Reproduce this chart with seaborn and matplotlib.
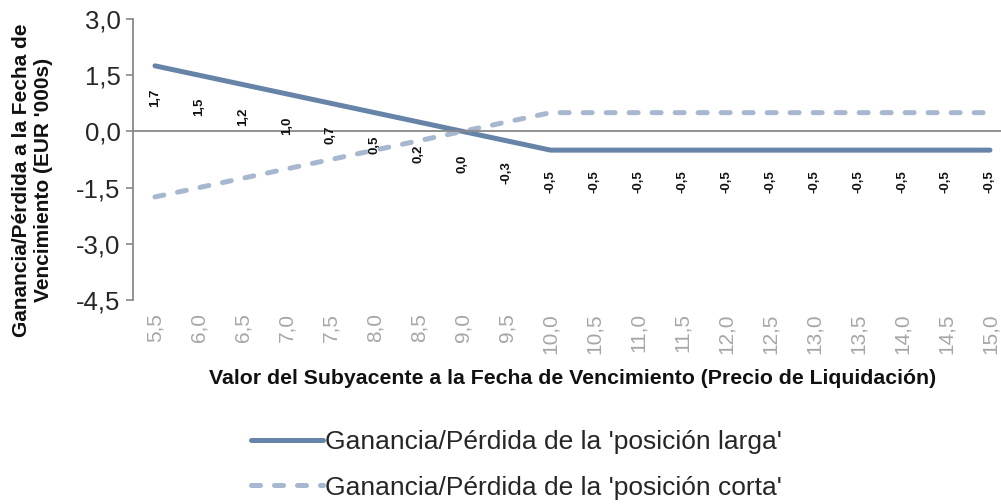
import pandas as pd
import matplotlib.pyplot as plt
import seaborn as sns

precios = ["5,5", "6,0", "6,5", "7,0", "7,5", "8,0", "8,5", "9,0", "9,5", "10,0",
           "10,5", "11,0", "11,5", "12,0", "12,5", "13,0", "13,5", "14,0", "14,5", "15,0"]
larga = [1.75, 1.5, 1.25, 1.0, 0.75, 0.5, 0.25, 0.0, -0.25, -0.5,
         -0.5, -0.5, -0.5, -0.5, -0.5, -0.5, -0.5, -0.5, -0.5, -0.5]
corta = [-1.75, -1.5, -1.25, -1.0, -0.75, -0.5, -0.25, 0.0, 0.25, 0.5,
         0.5, 0.5, 0.5, 0.5, 0.5, 0.5, 0.5, 0.5, 0.5, 0.5]
etiquetas = ["1,7", "1,5", "1,2", "1,0", "0,7", "0,5", "0,2", "0,0", "-0,3", "-0,5",
             "-0,5", "-0,5", "-0,5", "-0,5", "-0,5", "-0,5", "-0,5", "-0,5", "-0,5", "-0,5"]
yticks = [-4.5, -3.0, -1.5, 0.0, 1.5, 3.0]

serie_larga = "Ganancia/Pérdida de la 'posición larga'"
serie_corta = "Ganancia/Pérdida de la 'posición corta'"

df = pd.DataFrame({
    "Precio": precios * 2,
    "Valor": larga + corta,
    "Serie": [serie_larga] * len(precios) + [serie_corta] * len(precios),
})

sns.set_style("white")
plt.rcParams["font.family"] = ["Liberation Sans", "DejaVu Sans"]

fig = plt.figure(figsize=(10.01, 5.04), dpi=100)
ax = fig.add_axes([0.1329, 0.4048, 0.878, 0.5575])

colores = {serie_larga: "#6683a8", serie_corta: "#a6b7cf"}
sns.lineplot(data=df, x="Precio", y="Valor", hue="Serie", palette=colores,
             sort=False, ax=ax, linewidth=3.6, legend=False)

lineas = ax.get_lines()
lineas[0].set_solid_capstyle("round")
lineas[1].set_dashes((1.8, 2.8))
lineas[1].set_dash_capstyle("round")

for i, txt in enumerate(etiquetas):
    ax.annotate(txt, (i, larga[i]), xytext=(0, -23), textcoords="offset points",
                rotation=90, ha="center", va="center", fontsize=9.5,
                fontweight="bold", color="#111111")

ax.set_xlim(-0.5, len(precios) - 0.5)
ax.set_ylim(-4.5, 3.0)
ax.set_yticks(yticks)
ax.set_yticklabels([f"{v:.1f}".replace(".", ",") for v in yticks])

for s in ["top", "right"]:
    ax.spines[s].set_visible(False)
ax.spines["bottom"].set_position(("data", 0))
ax.spines["left"].set_color("#888888")
ax.spines["bottom"].set_color("#888888")
ax.spines["left"].set_linewidth(1.3)
ax.spines["bottom"].set_linewidth(1.3)

ax.set_xticks(range(len(precios)))
ax.set_xticklabels(precios, rotation=90)
ax.set_xticks([i + 0.5 for i in range(len(precios) - 1)], minor=True)
ax.tick_params(axis="x", which="major", length=0, pad=131, labelsize=15, labelcolor="#a6a6a6")
ax.tick_params(axis="x", which="minor", length=5, width=1.2, color="#888888", direction="out")
ax.tick_params(axis="y", length=5, width=1.2, color="#888888", direction="out",
               labelsize=18.5, labelcolor="#262626", pad=4, left=True)

ax.set_xlabel("Valor del Subyacente a la Fecha de Vencimiento (Precio de Liquidación)",
              fontsize=15.3, fontweight="bold", color="#111111")
ax.xaxis.set_label_coords(0.5, -0.2456)
ax.set_ylabel("")
fig.text(33 / 1001, 1 - 180 / 504, "Ganancia/Pérdida a la Fecha de\nVencimiento (EUR '000s)",
         rotation=90, ha="center", va="center", fontsize=15, fontweight="bold",
         color="#111111", linespacing=1.2)

h1 = plt.Line2D([], [], color=colores[serie_larga], linewidth=3.6, solid_capstyle="round")
h2 = plt.Line2D([], [], color=colores[serie_corta], linewidth=3.6, dashes=(1.8, 2.8),
                dash_capstyle="round")
fig.legend([h1, h2], [serie_larga, serie_corta], loc="center",
           bbox_to_anchor=(516 / 1001, 1 - 465 / 504), frameon=False, fontsize=19,
           handlelength=2.75, handletextpad=0.05, labelspacing=0.8, labelcolor="#262626")

fig.savefig("out.png", dpi=100)
